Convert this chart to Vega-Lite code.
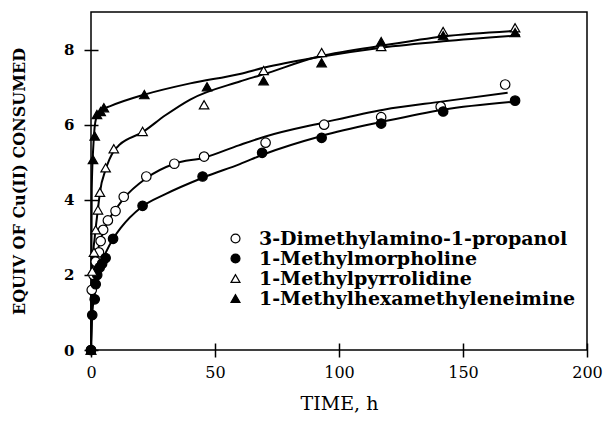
{
  "$schema": "https://vega.github.io/schema/vega-lite/v6.json",
  "width": 496,
  "height": 338,
  "autosize": {"type": "none"},
  "padding": {"left": 91, "top": 12, "right": 17, "bottom": 72},
  "config": {
    "view": {"stroke": "black", "strokeWidth": 1.5},
    "font": "DejaVu Serif",
    "legend": {
      "orient": "none",
      "legendX": 135,
      "legendY": 217,
      "labelFont": "DejaVu Serif",
      "labelFontWeight": "bold",
      "labelFontSize": 19,
      "labelColor": "black",
      "labelLimit": 0,
      "symbolSize": 80,
      "symbolStrokeColor": "black",
      "symbolStrokeWidth": 1.2,
      "rowPadding": 0,
      "labelOffset": 14,
      "title": null
    }
  },
  "datasets": {
    "pts": [
      {"s": "3-Dimethylamino-1-propanol", "t": 0, "y": 0},
      {"s": "3-Dimethylamino-1-propanol", "t": 0.3, "y": 1.6},
      {"s": "3-Dimethylamino-1-propanol", "t": 1, "y": 2.0},
      {"s": "3-Dimethylamino-1-propanol", "t": 1.9, "y": 2.35},
      {"s": "3-Dimethylamino-1-propanol", "t": 3.2, "y": 2.6},
      {"s": "3-Dimethylamino-1-propanol", "t": 3.9, "y": 2.9},
      {"s": "3-Dimethylamino-1-propanol", "t": 4.9, "y": 3.2},
      {"s": "3-Dimethylamino-1-propanol", "t": 6.8, "y": 3.45},
      {"s": "3-Dimethylamino-1-propanol", "t": 9.9, "y": 3.7},
      {"s": "3-Dimethylamino-1-propanol", "t": 13.2, "y": 4.08},
      {"s": "3-Dimethylamino-1-propanol", "t": 22.3, "y": 4.62},
      {"s": "3-Dimethylamino-1-propanol", "t": 33.6, "y": 4.96},
      {"s": "3-Dimethylamino-1-propanol", "t": 45.6, "y": 5.15},
      {"s": "3-Dimethylamino-1-propanol", "t": 70.4, "y": 5.52},
      {"s": "3-Dimethylamino-1-propanol", "t": 94, "y": 6.0},
      {"s": "3-Dimethylamino-1-propanol", "t": 117, "y": 6.2},
      {"s": "3-Dimethylamino-1-propanol", "t": 141, "y": 6.48},
      {"s": "3-Dimethylamino-1-propanol", "t": 167, "y": 7.07},
      {"s": "1-Methylmorpholine", "t": 0, "y": 0},
      {"s": "1-Methylmorpholine", "t": 0.5, "y": 0.93},
      {"s": "1-Methylmorpholine", "t": 1.5, "y": 1.35},
      {"s": "1-Methylmorpholine", "t": 1.9, "y": 1.75},
      {"s": "1-Methylmorpholine", "t": 2.5, "y": 2.0},
      {"s": "1-Methylmorpholine", "t": 3.5, "y": 2.2},
      {"s": "1-Methylmorpholine", "t": 4.5, "y": 2.3},
      {"s": "1-Methylmorpholine", "t": 5.9, "y": 2.45},
      {"s": "1-Methylmorpholine", "t": 8.9, "y": 2.96},
      {"s": "1-Methylmorpholine", "t": 20.8, "y": 3.84},
      {"s": "1-Methylmorpholine", "t": 45, "y": 4.62},
      {"s": "1-Methylmorpholine", "t": 69, "y": 5.25},
      {"s": "1-Methylmorpholine", "t": 93, "y": 5.65},
      {"s": "1-Methylmorpholine", "t": 117, "y": 6.03},
      {"s": "1-Methylmorpholine", "t": 142, "y": 6.35},
      {"s": "1-Methylmorpholine", "t": 171, "y": 6.64},
      {"s": "1-Methylpyrrolidine", "t": 0, "y": 0},
      {"s": "1-Methylpyrrolidine", "t": 0.5, "y": 2.1},
      {"s": "1-Methylpyrrolidine", "t": 1.2, "y": 2.6},
      {"s": "1-Methylpyrrolidine", "t": 1.9, "y": 3.2},
      {"s": "1-Methylpyrrolidine", "t": 2.8, "y": 3.73},
      {"s": "1-Methylpyrrolidine", "t": 3.6, "y": 4.2},
      {"s": "1-Methylpyrrolidine", "t": 5.9, "y": 4.85},
      {"s": "1-Methylpyrrolidine", "t": 9.2, "y": 5.36},
      {"s": "1-Methylpyrrolidine", "t": 20.8, "y": 5.82},
      {"s": "1-Methylpyrrolidine", "t": 45.6, "y": 6.53},
      {"s": "1-Methylpyrrolidine", "t": 69.6, "y": 7.44},
      {"s": "1-Methylpyrrolidine", "t": 93, "y": 7.92},
      {"s": "1-Methylpyrrolidine", "t": 117, "y": 8.08},
      {"s": "1-Methylpyrrolidine", "t": 142, "y": 8.48},
      {"s": "1-Methylpyrrolidine", "t": 171, "y": 8.58},
      {"s": "1-Methylhexamethyleneimine", "t": 0, "y": 0},
      {"s": "1-Methylhexamethyleneimine", "t": 0.8, "y": 5.07},
      {"s": "1-Methylhexamethyleneimine", "t": 1.5, "y": 5.7},
      {"s": "1-Methylhexamethyleneimine", "t": 2.4, "y": 6.27},
      {"s": "1-Methylhexamethyleneimine", "t": 3.9, "y": 6.35},
      {"s": "1-Methylhexamethyleneimine", "t": 5.2, "y": 6.45},
      {"s": "1-Methylhexamethyleneimine", "t": 21.5, "y": 6.8},
      {"s": "1-Methylhexamethyleneimine", "t": 46.8, "y": 7.01},
      {"s": "1-Methylhexamethyleneimine", "t": 69.6, "y": 7.17},
      {"s": "1-Methylhexamethyleneimine", "t": 93, "y": 7.65},
      {"s": "1-Methylhexamethyleneimine", "t": 117, "y": 8.21},
      {"s": "1-Methylhexamethyleneimine", "t": 142, "y": 8.37},
      {"s": "1-Methylhexamethyleneimine", "t": 171, "y": 8.45}
    ],
    "fit": [
      {"s": "3-Dimethylamino-1-propanol", "t": 0, "y": 0},
      {"s": "3-Dimethylamino-1-propanol", "t": 0.3, "y": 1.6},
      {"s": "3-Dimethylamino-1-propanol", "t": 1, "y": 2.05},
      {"s": "3-Dimethylamino-1-propanol", "t": 2, "y": 2.45},
      {"s": "3-Dimethylamino-1-propanol", "t": 3.5, "y": 2.85},
      {"s": "3-Dimethylamino-1-propanol", "t": 5, "y": 3.15},
      {"s": "3-Dimethylamino-1-propanol", "t": 7, "y": 3.45},
      {"s": "3-Dimethylamino-1-propanol", "t": 10, "y": 3.75},
      {"s": "3-Dimethylamino-1-propanol", "t": 13, "y": 4.02},
      {"s": "3-Dimethylamino-1-propanol", "t": 22.4, "y": 4.58},
      {"s": "3-Dimethylamino-1-propanol", "t": 33.6, "y": 4.96},
      {"s": "3-Dimethylamino-1-propanol", "t": 45.6, "y": 5.12},
      {"s": "3-Dimethylamino-1-propanol", "t": 59.6, "y": 5.45},
      {"s": "3-Dimethylamino-1-propanol", "t": 70, "y": 5.68},
      {"s": "3-Dimethylamino-1-propanol", "t": 94, "y": 6.06},
      {"s": "3-Dimethylamino-1-propanol", "t": 118, "y": 6.4},
      {"s": "3-Dimethylamino-1-propanol", "t": 142, "y": 6.62},
      {"s": "3-Dimethylamino-1-propanol", "t": 168, "y": 6.85},
      {"s": "1-Methylmorpholine", "t": 0, "y": 0},
      {"s": "1-Methylmorpholine", "t": 0.5, "y": 0.95},
      {"s": "1-Methylmorpholine", "t": 1.5, "y": 1.5},
      {"s": "1-Methylmorpholine", "t": 2.5, "y": 1.95},
      {"s": "1-Methylmorpholine", "t": 4, "y": 2.3},
      {"s": "1-Methylmorpholine", "t": 6, "y": 2.6},
      {"s": "1-Methylmorpholine", "t": 9, "y": 2.97},
      {"s": "1-Methylmorpholine", "t": 12, "y": 3.25},
      {"s": "1-Methylmorpholine", "t": 20.3, "y": 3.8},
      {"s": "1-Methylmorpholine", "t": 30, "y": 4.15},
      {"s": "1-Methylmorpholine", "t": 45.6, "y": 4.6},
      {"s": "1-Methylmorpholine", "t": 60, "y": 4.95},
      {"s": "1-Methylmorpholine", "t": 70, "y": 5.22},
      {"s": "1-Methylmorpholine", "t": 93, "y": 5.7},
      {"s": "1-Methylmorpholine", "t": 117, "y": 6.07},
      {"s": "1-Methylmorpholine", "t": 142, "y": 6.4},
      {"s": "1-Methylmorpholine", "t": 172, "y": 6.62},
      {"s": "1-Methylpyrrolidine", "t": 0, "y": 0},
      {"s": "1-Methylpyrrolidine", "t": 0.5, "y": 2.2},
      {"s": "1-Methylpyrrolidine", "t": 1.5, "y": 3.0},
      {"s": "1-Methylpyrrolidine", "t": 2.8, "y": 3.75},
      {"s": "1-Methylpyrrolidine", "t": 3.6, "y": 4.2},
      {"s": "1-Methylpyrrolidine", "t": 5.9, "y": 4.8},
      {"s": "1-Methylpyrrolidine", "t": 9.2, "y": 5.3},
      {"s": "1-Methylpyrrolidine", "t": 11.6, "y": 5.47},
      {"s": "1-Methylpyrrolidine", "t": 20.8, "y": 5.8},
      {"s": "1-Methylpyrrolidine", "t": 30, "y": 6.25},
      {"s": "1-Methylpyrrolidine", "t": 40, "y": 6.67},
      {"s": "1-Methylpyrrolidine", "t": 60, "y": 7.15},
      {"s": "1-Methylpyrrolidine", "t": 70, "y": 7.35},
      {"s": "1-Methylpyrrolidine", "t": 90, "y": 7.78},
      {"s": "1-Methylpyrrolidine", "t": 117, "y": 8.1},
      {"s": "1-Methylpyrrolidine", "t": 142, "y": 8.35},
      {"s": "1-Methylpyrrolidine", "t": 172, "y": 8.5},
      {"s": "1-Methylhexamethyleneimine", "t": 0, "y": 0},
      {"s": "1-Methylhexamethyleneimine", "t": 0.3, "y": 4.3},
      {"s": "1-Methylhexamethyleneimine", "t": 1, "y": 5.5},
      {"s": "1-Methylhexamethyleneimine", "t": 2, "y": 6.15},
      {"s": "1-Methylhexamethyleneimine", "t": 4, "y": 6.38},
      {"s": "1-Methylhexamethyleneimine", "t": 8, "y": 6.5},
      {"s": "1-Methylhexamethyleneimine", "t": 21.5, "y": 6.8},
      {"s": "1-Methylhexamethyleneimine", "t": 40, "y": 7.1},
      {"s": "1-Methylhexamethyleneimine", "t": 60, "y": 7.35},
      {"s": "1-Methylhexamethyleneimine", "t": 70, "y": 7.52},
      {"s": "1-Methylhexamethyleneimine", "t": 90, "y": 7.78},
      {"s": "1-Methylhexamethyleneimine", "t": 117, "y": 8.05},
      {"s": "1-Methylhexamethyleneimine", "t": 142, "y": 8.22},
      {"s": "1-Methylhexamethyleneimine", "t": 173, "y": 8.38}
    ]
  },
  "layer": [
    {
      "data": {"name": "fit"},
      "mark": {"type": "line", "interpolate": "monotone", "stroke": "black", "strokeWidth": 2},
      "encoding": {
        "x": {
          "field": "t", "type": "quantitative",
          "scale": {"domain": [0, 200], "nice": false},
          "axis": {
            "values": [0, 50, 100, 150, 200], "grid": false, "domain": false,
            "ticks": true, "tickOpacity": 1, "labelFlush": false,
            "offset": -7, "tickSize": 14, "tickColor": "black", "tickWidth": 1.5,
            "labelFont": "DejaVu Serif", "labelFontSize": 16, "labelColor": "black", "labelPadding": 7,
            "title": "TIME, h", "titleFont": "DejaVu Serif", "titleFontSize": 19, "titleFontWeight": "normal",
            "titleColor": "black", "titlePadding": 14
          }
        },
        "y": {
          "field": "y", "type": "quantitative",
          "scale": {"domain": [0, 9], "nice": false},
          "axis": {
            "values": [0, 2, 4, 6, 8], "grid": false, "domain": false,
            "ticks": true, "tickOpacity": 1, "labelFlush": false,
            "offset": -7, "tickSize": 14, "tickColor": "black", "tickWidth": 1.5,
            "labelFont": "DejaVu Serif", "labelFontSize": 15, "labelFontWeight": "bold", "labelColor": "black", "labelPadding": 10,
            "title": "EQUIV OF Cu(II) CONSUMED", "titleFont": "DejaVu Serif", "titleFontSize": 16, "titleFontWeight": "bold",
            "titleColor": "black", "titlePadding": 36
          }
        },
        "detail": {"field": "s"}
      }
    },
    {
      "data": {"name": "pts"},
      "mark": {"type": "point", "strokeWidth": 1.2, "size": 90, "opacity": 1, "fillOpacity": 1, "filled": true},
      "encoding": {
        "x": {"field": "t", "type": "quantitative"},
        "y": {"field": "y", "type": "quantitative"},
        "fill": {
          "field": "s", "type": "nominal",
          "scale": {
            "domain": ["3-Dimethylamino-1-propanol", "1-Methylmorpholine", "1-Methylpyrrolidine", "1-Methylhexamethyleneimine"],
            "range": ["white", "black", "white", "black"]
          },
          "legend": {"title": null}
        },
        "stroke": {
          "field": "s", "type": "nominal",
          "scale": {
            "domain": ["3-Dimethylamino-1-propanol", "1-Methylmorpholine", "1-Methylpyrrolidine", "1-Methylhexamethyleneimine"],
            "range": ["black", "black", "black", "black"]
          },
          "legend": {"title": null}
        },
        "shape": {
          "field": "s", "type": "nominal",
          "scale": {
            "domain": ["3-Dimethylamino-1-propanol", "1-Methylmorpholine", "1-Methylpyrrolidine", "1-Methylhexamethyleneimine"],
            "range": ["circle", "circle", "triangle-up", "triangle-up"]
          },
          "legend": {"title": null}
        }
      }
    }
  ]
}
